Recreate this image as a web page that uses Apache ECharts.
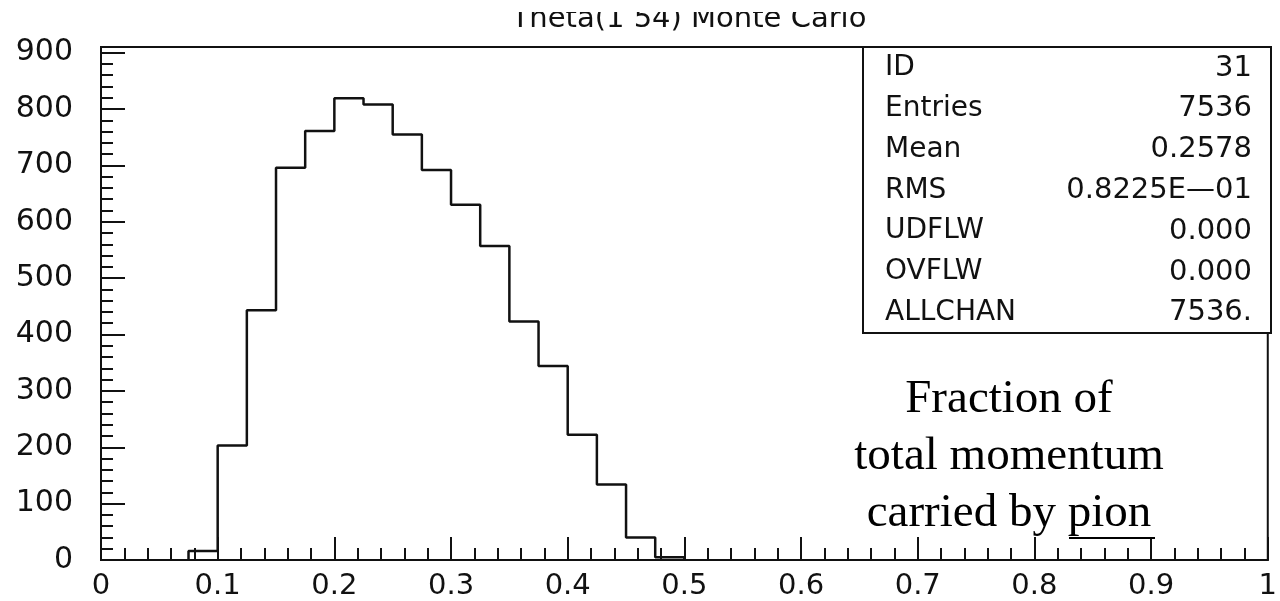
<!DOCTYPE html>
<html>
<head>
<meta charset="utf-8">
<script src="https://cdn.jsdelivr.net/npm/echarts@6/dist/echarts.min.js"></script>
<style>html,body{margin:0;padding:0;background:#fff}#c{width:1280px;height:601px}</style>
</head>
<body>
<div id="c"></div>
<script>
// ---- data ----
const titleText = 'Theta(1 54) Monte Carlo';
const binEdges = [0.075,0.1,0.125,0.15,0.175,0.2,0.225,0.25,0.275,0.3,0.325,0.35,0.375,0.4,0.425,0.45,0.475,0.5];
const binCounts = [16,203,443,696,761,819,808,755,692,630,557,423,344,222,134,40,5];
const statLabels = ['ID','Entries','Mean','RMS','UDFLW','OVFLW','ALLCHAN'];
const statValues = ['31','7536','0.2578','0.8225E\u201401','0.000','0.000','7536.'];
const noteLines = ['Fraction of','total momentum','carried by pion'];
const xMin = 0, xMax = 1, xStep = 0.1, xMinorStep = 0.02;
const yMin = 0, yMax = 910, yStep = 100, yMinorStep = 20;

// histogram outline built from bin edges/counts
const outline = [[binEdges[0], 0]];
for (let i = 0; i < binCounts.length; i++) {
  outline.push([binEdges[i], binCounts[i]]);
  outline.push([binEdges[i + 1], binCounts[i]]);
}
outline.push([binEdges[binEdges.length - 1], 0]);

const FONT = 'DejaVu Sans';
const INK = '#111';

const graphics = [];
// stats box
graphics.push({type:'rect', shape:{x:863, y:47, width:408, height:286}, style:{fill:'#fff', stroke:INK, lineWidth:2}, z:10});
statLabels.forEach((s, i) => {
  const y = 68 + i * 40.8;
  graphics.push({type:'text', x:885, y:y, style:{text:s, fontFamily:FONT, fontSize:28, fill:INK, align:'left', verticalAlign:'middle'}, z:11});
  graphics.push({type:'text', x:1252, y:y, style:{text:statValues[i], fontFamily:FONT, fontSize:29, fill:INK, align:'right', verticalAlign:'middle'}, z:11});
});
// note text
noteLines.forEach((s, i) => {
  graphics.push({type:'text', x:1009, y:400 + i * 57, style:{text:s, fontFamily:'Liberation Serif', fontSize:47, fill:'#000', align:'center', verticalAlign:'middle'}, z:11});
});
graphics.push({type:'line', shape:{x1:1069, y1:538, x2:1155, y2:538}, style:{stroke:'#000', lineWidth:2}, z:11});
// title (top clipped as in the source)
graphics.push({type:'text', x:689, y:19, style:{text:titleText, fontFamily:FONT, fontSize:29, fill:INK, align:'center', verticalAlign:'middle'}, z:11});
graphics.push({type:'rect', shape:{x:0, y:0, width:1280, height:12}, style:{fill:'#fff'}, z:12});

const chart = echarts.init(document.getElementById('c'), null, {renderer:'canvas'});
chart.setOption({
  animation:false,
  backgroundColor:'#fff',
  grid:{left:101, right:9, top:47, bottom:40, show:true, borderColor:INK, borderWidth:2, backgroundColor:'transparent'},
  xAxis:[
    {type:'value', min:xMin, max:xMax, interval:xStep,
     axisLine:{show:true, onZero:false, lineStyle:{color:INK, width:2}},
     axisTick:{show:true, inside:true, length:23, lineStyle:{color:INK, width:2}},
     axisLabel:{fontFamily:FONT, fontSize:29, color:INK, margin:12},
     splitLine:{show:false}},
    {type:'value', min:xMin, max:xMax, interval:xMinorStep, position:'bottom',
     axisLine:{show:false},
     axisTick:{show:true, inside:true, length:12, lineStyle:{color:INK, width:2}},
     axisLabel:{show:false}, splitLine:{show:false}}
  ],
  yAxis:[
    {type:'value', min:yMin, max:yMax, interval:yStep,
     axisLine:{show:true, onZero:false, lineStyle:{color:INK, width:2}},
     axisTick:{show:true, inside:true, length:24, lineStyle:{color:INK, width:2}},
     axisLabel:{fontFamily:FONT, fontSize:30, color:INK, margin:28, showMaxLabel:false},
     splitLine:{show:false}},
    {type:'value', min:yMin, max:yMax, interval:yMinorStep, position:'left',
     axisLine:{show:false},
     axisTick:{show:true, inside:true, length:12, lineStyle:{color:INK, width:2}},
     axisLabel:{show:false}, splitLine:{show:false}}
  ],
  series:[{
    type:'line', data:outline, xAxisIndex:0, yAxisIndex:0,
    showSymbol:false, symbol:'none',
    lineStyle:{color:INK, width:2.5}, z:5
  }],
  graphic:graphics
});
</script>
</body>
</html>
